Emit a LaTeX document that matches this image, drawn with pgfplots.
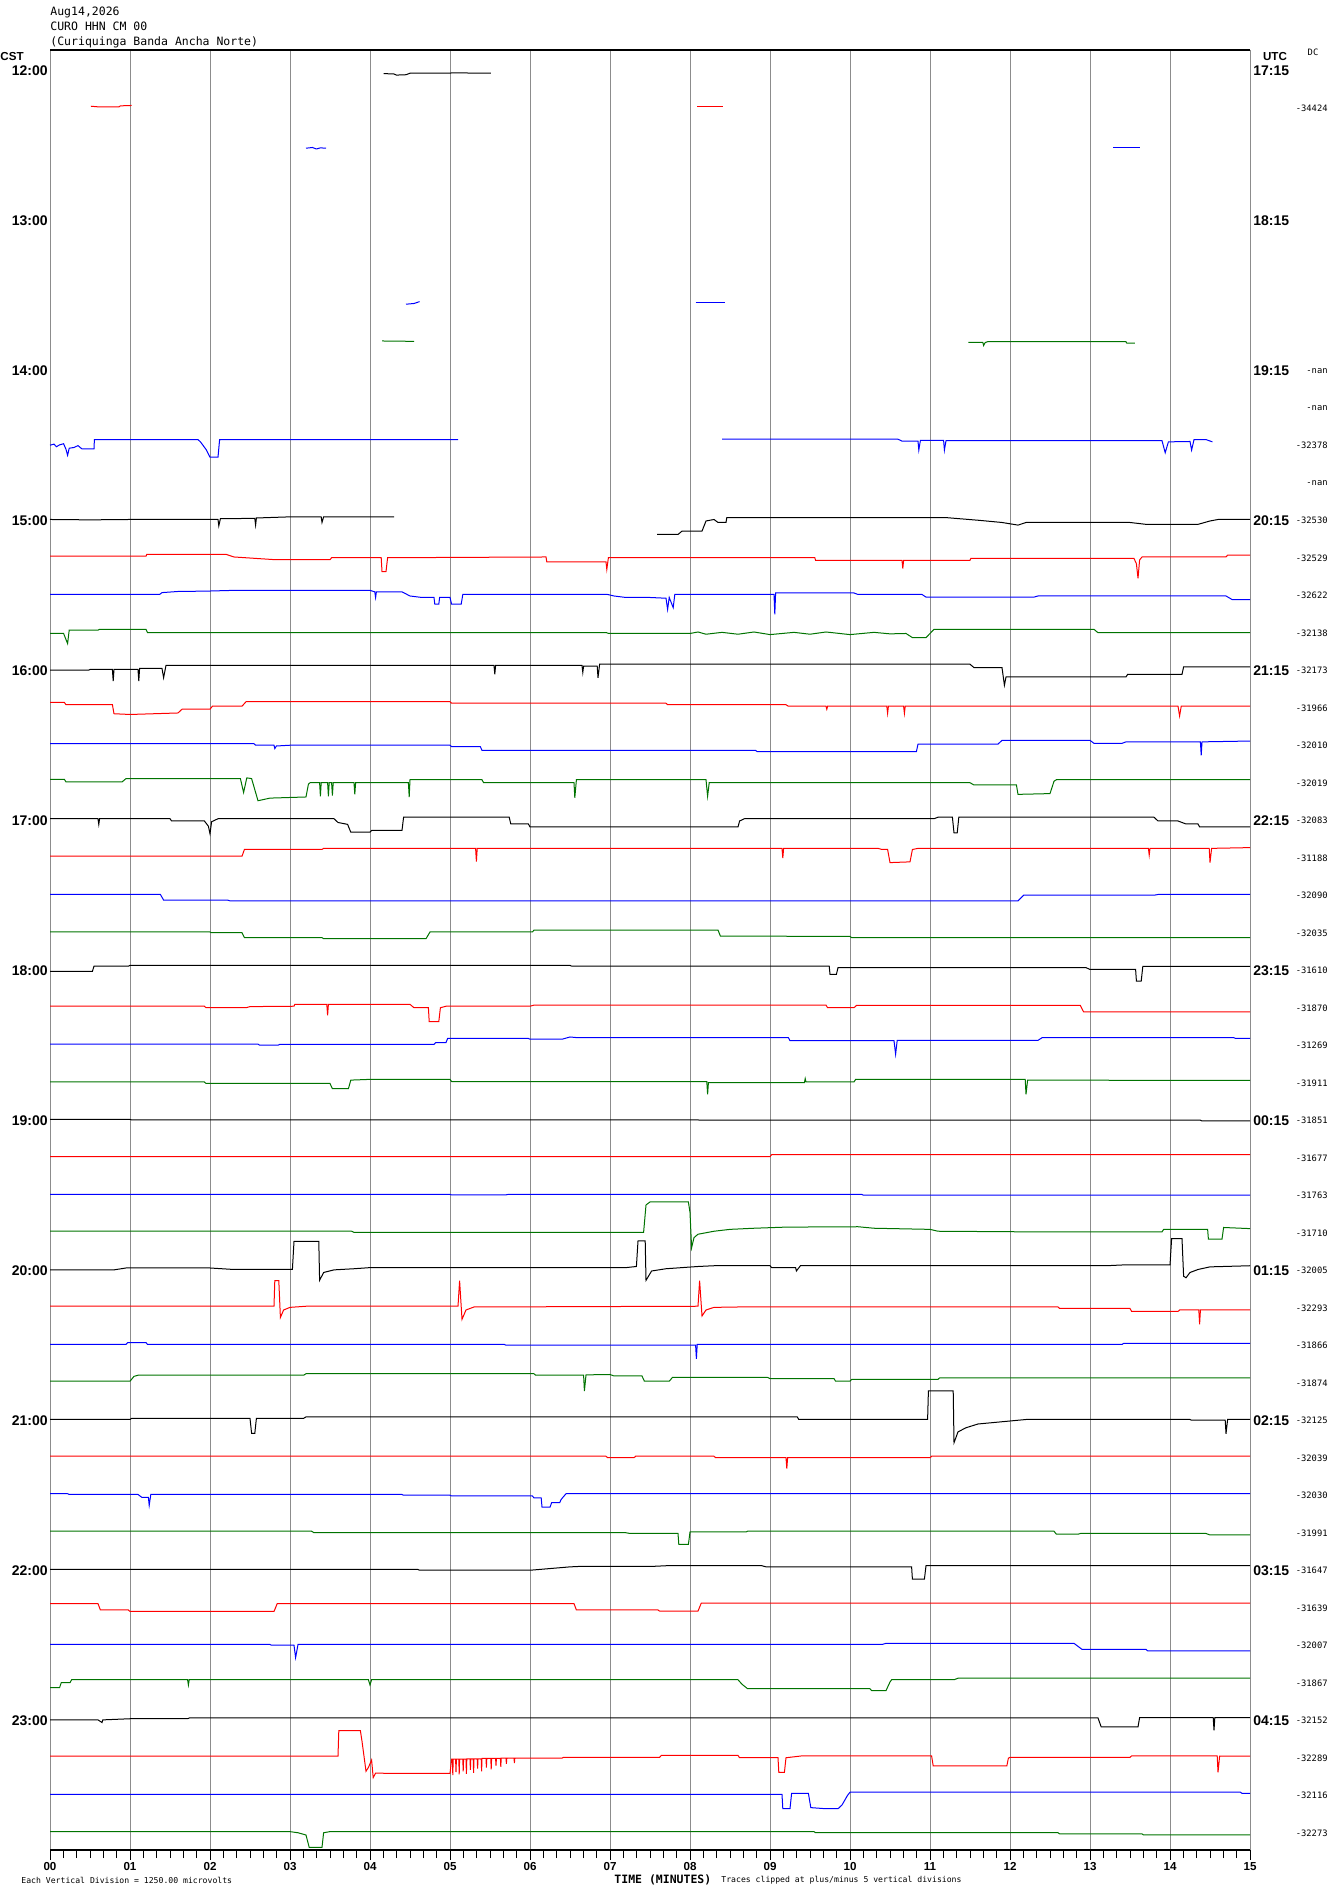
\documentclass[border=0pt]{standalone}
\usepackage{pgfplots}
\pgfplotsset{compat=1.18}
\usepackage{fontspec}
\setmainfont{Liberation Sans}
\newfontfamily\monofont{DejaVu Sans Mono}
\definecolor{trblack}{rgb}{0,0,0}
\definecolor{trred}{rgb}{1,0,0}
\definecolor{trblue}{rgb}{0,0,1}
\definecolor{trgreen}{rgb}{0,0.45,0}
\definecolor{gridgray}{rgb}{0.55,0.55,0.55}
\begin{document}
\begin{tikzpicture}[x=1pt,y=1pt]
\begin{axis}[
  at={(25pt,22pt)}, anchor=south west,
  scale only axis, width=600pt, height=900pt,
  xmin=0, xmax=15, ymin=-47.5, ymax=0.5,
  axis x line*=bottom, axis y line=none,
  xtick={0,1,2,3,4,5,6,7,8,9,10,11,12,13,14,15},
  xticklabels={00,01,02,03,04,05,06,07,08,09,10,11,12,13,14,15},
  minor x tick num=5,
  tick align=outside,
  major tick length=5pt, minor tick length=4pt,
  tick style={black, line width=0.5pt},
  xmajorgrids, major grid style={gridgray, line width=0.5pt},
  xticklabel style={font={\bfseries\fontsize{5.8}{6}\selectfont}, inner sep=1pt},
  axis line style={black, line width=0.6pt},
  clip=false,
  every axis plot/.append style={line width=0.5pt, mark=none, sharp plot},
]
% 12:00 - 12:45
\addplot[trblack] coordinates {(4.17,-0.13) (4.30,-0.14) (4.33,-0.17) (4.45,-0.16) (4.50,-0.12) (5.00,-0.12) (5.02,-0.11) (5.51,-0.12)};
\addplot[trred] coordinates {(0.51,-1.00) (0.62,-1.02) (0.86,-1.02) (0.88,-0.99) (1.02,-0.98)};
\addplot[trred] coordinates {(8.09,-1.02) (8.41,-1.02)};
\addplot[trblue] coordinates {(3.20,-2.12) (3.28,-2.10) (3.33,-2.14) (3.38,-2.11) (3.45,-2.12)};
\addplot[trblue] coordinates {(13.29,-2.10) (13.63,-2.10)};
% 13:30 - 13:45
\addplot[trblue] coordinates {(4.45,-6.28) (4.55,-6.26) (4.62,-6.21)};
\addplot[trblue] coordinates {(8.07,-6.24) (8.44,-6.24)};
\addplot[trgreen] coordinates {(4.15,-7.26) (4.55,-7.27)};
\addplot[trgreen] coordinates {(11.48,-7.30) (11.66,-7.30) (11.67,-7.38) (11.69,-7.30) (11.72,-7.28) (13.45,-7.28) (13.46,-7.32) (13.56,-7.32)};
% 14:30
\addplot[trblue] coordinates {(0,-10.04) (0.05,-10.01) (0.08,-10.08) (0.12,-10.03) (0.17,-10.00) (0.20,-10.15) (0.22,-10.31) (0.24,-10.12) (0.30,-10.10) (0.35,-10.05) (0.40,-10.14) (0.55,-10.14) (0.555,-9.89) (1.85,-9.89) (1.88,-9.95) (1.95,-10.15) (2.00,-10.36) (2.10,-10.36) (2.12,-9.89) (5.10,-9.89)};
\addplot[trblue] coordinates {(8.40,-9.88) (10.60,-9.88) (10.65,-9.93) (10.85,-9.93) (10.86,-10.17) (10.88,-9.91) (11.17,-9.91) (11.18,-10.17) (11.20,-9.92) (13.90,-9.92) (13.94,-10.24) (13.98,-9.95) (14.25,-9.94) (14.27,-10.17) (14.30,-9.89) (14.45,-9.89) (14.53,-9.95)};
% 15:00
\addplot[trblack] coordinates {(0,-12.02) (0.5,-12.03) (1.0,-12.02) (2.1,-12.02) (2.11,-12.19) (2.13,-12.0) (2.56,-11.99) (2.57,-12.17) (2.58,-11.98) (3.0,-11.95) (3.39,-11.95) (3.40,-12.10) (3.42,-11.95) (4.30,-11.95)};
\addplot[trblack] coordinates {(7.59,-12.42) (7.85,-12.42) (7.90,-12.33) (8.15,-12.33) (8.20,-12.06) (8.30,-12.02) (8.35,-12.10) (8.45,-12.10) (8.46,-11.97) (11.20,-11.97) (11.60,-12.04) (11.90,-12.10) (12.10,-12.17) (12.20,-12.10) (13.50,-12.10) (13.70,-12.15) (14.35,-12.15) (14.50,-12.06) (14.60,-12.02) (15,-12.02)};
\addplot[trred] coordinates {(0,-13.0) (1.2,-13.0) (1.21,-12.95) (2.2,-12.95) (2.3,-13.02) (2.8,-13.09) (3.5,-13.09) (3.52,-13.04) (4.14,-13.04) (4.15,-13.41) (4.20,-13.41) (4.22,-13.04) (6.2,-13.02) (6.21,-13.15) (6.95,-13.15) (6.96,-13.35) (6.98,-13.04) (9.56,-13.04) (9.57,-13.11) (10.65,-13.11) (10.66,-13.33) (10.67,-13.11) (11.5,-13.11) (11.51,-13.06) (13.55,-13.06) (13.58,-13.2) (13.60,-13.59) (13.62,-13.10) (13.65,-13.02) (14.7,-13.02) (14.72,-12.97) (15,-12.97)};
\addplot[trblue] coordinates {(0,-14.02) (1.37,-14.02) (1.40,-13.97) (1.60,-13.94) (1.96,-13.93) (2.3,-13.91) (4.0,-13.91) (4.06,-13.95) (4.07,-14.10) (4.08,-13.95) (4.4,-13.95) (4.5,-14.06) (4.65,-14.10) (4.80,-14.10) (4.81,-14.28) (4.86,-14.28) (4.87,-14.10) (5.0,-14.10) (5.02,-14.28) (5.14,-14.28) (5.16,-14.02) (6.97,-14.02) (7.05,-14.06) (7.2,-14.10) (7.5,-14.10) (7.7,-14.12) (7.72,-14.42) (7.74,-14.10) (7.79,-14.37) (7.81,-14.02) (9.05,-14.02) (9.06,-14.55) (9.07,-13.98) (10.05,-13.98) (10.1,-14.02) (10.9,-14.02) (10.95,-14.09) (12.3,-14.09) (12.35,-14.06) (14.7,-14.06) (14.78,-14.16) (15,-14.16)};
\addplot[trgreen] coordinates {(0,-15.06) (0.17,-15.06) (0.22,-15.33) (0.24,-14.97) (0.6,-14.97) (0.62,-14.95) (1.2,-14.95) (1.22,-15.04) (6.96,-15.04) (6.98,-15.06) (8.0,-15.06) (8.1,-15.02) (8.2,-15.08) (8.4,-15.03) (8.6,-15.08) (8.8,-15.02) (9.0,-15.09) (9.3,-15.03) (9.5,-15.08) (9.7,-15.02) (10.0,-15.09) (10.3,-15.03) (10.5,-15.07) (10.7,-15.06) (10.78,-15.17) (10.95,-15.17) (11.0,-15.06) (11.05,-14.95) (13.05,-14.95) (13.1,-15.04) (15,-15.04)};
% 16:00
\addplot[trblack] coordinates {(0,-16.04) (0.48,-16.04) (0.5,-16.02) (0.78,-16.02) (0.79,-16.33) (0.80,-16.02) (1.10,-16.02) (1.11,-16.33) (1.12,-15.99) (1.40,-15.99) (1.42,-16.24) (1.45,-15.91) (5.55,-15.91) (5.56,-16.15) (5.57,-15.91) (6.65,-15.91) (6.66,-16.10) (6.67,-15.93) (6.84,-15.93) (6.85,-16.24) (6.87,-15.88) (11.5,-15.88) (11.55,-15.97) (11.9,-15.97) (11.93,-16.44) (11.95,-16.22) (13.45,-16.22) (13.47,-16.15) (14.15,-16.15) (14.17,-15.95) (15,-15.95)};
\addplot[trred] coordinates {(0,-16.90) (0.18,-16.90) (0.2,-16.96) (0.78,-16.96) (0.8,-17.20) (1.0,-17.22) (1.3,-17.20) (1.6,-17.18) (1.65,-17.08) (2.0,-17.08) (2.03,-17.0) (2.4,-17.0) (2.45,-16.88) (5.0,-16.88) (5.02,-16.92) (7.7,-16.92) (7.72,-16.96) (9.2,-16.96) (9.23,-17.0) (9.7,-17.0) (9.71,-17.08) (9.72,-17.0) (10.46,-17.0) (10.47,-17.19) (10.48,-17.0) (10.67,-17.0) (10.68,-17.19) (10.69,-17.0) (14.1,-17.0) (14.12,-17.26) (14.14,-17.0) (15,-17.0)};
\addplot[trblue] coordinates {(0,-18.0) (2.55,-18.0) (2.57,-18.04) (2.80,-18.04) (2.81,-18.13) (2.83,-18.06) (3.0,-18.04) (5.0,-18.04) (5.02,-18.08) (5.38,-18.08) (5.40,-18.18) (8.82,-18.18) (8.84,-18.21) (10.83,-18.21) (10.85,-18.01) (11.85,-18.01) (11.90,-17.91) (13.0,-17.91) (13.05,-17.99) (13.4,-17.99) (13.45,-17.95) (14.38,-17.95) (14.39,-18.31) (14.40,-17.95) (14.95,-17.93) (15,-17.93)};
\addplot[trgreen] coordinates {(0,-18.95) (0.18,-18.95) (0.2,-19.02) (0.9,-19.02) (0.95,-18.93) (2.38,-18.93) (2.42,-19.30) (2.46,-18.91) (2.52,-18.93) (2.60,-19.52) (2.75,-19.45) (3.2,-19.42) (3.23,-19.08) (3.25,-19.04) (3.37,-19.04) (3.38,-19.40) (3.39,-19.04) (3.47,-19.04) (3.48,-19.40) (3.49,-19.04) (3.52,-19.04) (3.53,-19.38) (3.54,-19.04) (3.80,-19.04) (3.81,-19.35) (3.82,-19.04) (4.48,-19.04) (4.49,-19.42) (4.50,-18.96) (5.4,-18.96) (5.42,-19.04) (6.55,-19.04) (6.56,-19.44) (6.58,-18.96) (8.20,-18.96) (8.22,-19.40) (8.24,-19.04) (11.5,-19.04) (11.55,-19.10) (12.08,-19.10) (12.10,-19.35) (12.5,-19.33) (12.55,-19.0) (12.58,-18.96) (15,-18.96)};
% 17:00
\addplot[trblack] coordinates {(0,-20.0) (0.6,-20.0) (0.61,-20.15) (0.62,-20.0) (1.5,-20.0) (1.52,-20.06) (1.93,-20.06) (1.98,-20.2) (2.0,-20.40) (2.02,-20.08) (2.1,-20.0) (3.55,-20.0) (3.6,-20.1) (3.72,-20.15) (3.76,-20.36) (4.0,-20.36) (4.02,-20.31) (4.4,-20.31) (4.42,-19.96) (5.74,-19.96) (5.76,-20.14) (5.98,-20.14) (6.0,-20.22) (8.6,-20.22) (8.62,-20.06) (8.68,-20.0) (11.05,-20.0) (11.1,-19.96) (11.28,-19.96) (11.30,-20.38) (11.34,-20.38) (11.36,-19.96) (13.8,-19.96) (13.85,-20.06) (14.1,-20.06) (14.2,-20.14) (14.35,-20.14) (14.37,-20.22) (15,-20.22)};
\addplot[trred] coordinates {(0,-21.0) (2.40,-21.0) (2.43,-20.82) (3.4,-20.82) (3.42,-20.79) (5.32,-20.79) (5.33,-21.14) (5.34,-20.79) (9.15,-20.79) (9.16,-21.05) (9.17,-20.79) (10.35,-20.79) (10.4,-20.82) (10.47,-20.82) (10.50,-21.17) (10.75,-21.15) (10.78,-20.82) (10.85,-20.79) (13.73,-20.79) (13.74,-20.97) (13.75,-20.79) (14.49,-20.79) (14.50,-21.17) (14.52,-20.79) (15,-20.77)};
\addplot[trblue] coordinates {(0,-22.02) (1.38,-22.02) (1.42,-22.17) (2.22,-22.17) (2.25,-22.19) (12.1,-22.19) (12.17,-22.04) (13.8,-22.04) (13.85,-22.02) (15,-22.02)};
\addplot[trgreen] coordinates {(0,-23.02) (2.0,-23.02) (2.02,-23.04) (2.40,-23.04) (2.43,-23.17) (3.4,-23.17) (3.42,-23.20) (4.70,-23.20) (4.75,-23.02) (6.03,-23.02) (6.05,-22.97) (8.35,-22.97) (8.38,-23.13) (9.2,-23.13) (9.22,-23.14) (10.0,-23.14) (10.02,-23.17) (15,-23.17)};
% 18:00
\addplot[trblack] coordinates {(0,-24.07) (0.53,-24.07) (0.55,-23.93) (0.98,-23.93) (1.0,-23.91) (6.5,-23.91) (6.52,-23.93) (9.74,-23.93) (9.75,-24.15) (9.83,-24.15) (9.85,-23.97) (12.95,-23.97) (13.0,-24.02) (13.57,-24.02) (13.58,-24.33) (13.64,-24.33) (13.66,-23.94) (15,-23.94)};
\addplot[trred] coordinates {(0,-25.0) (1.93,-25.0) (1.95,-25.04) (2.45,-25.04) (2.5,-25.01) (3.05,-25.0) (3.06,-24.95) (3.46,-24.95) (3.47,-25.24) (3.48,-24.95) (4.5,-24.95) (4.55,-25.04) (4.73,-25.04) (4.74,-25.41) (4.86,-25.41) (4.88,-25.04) (4.95,-25.0) (6.0,-25.0) (6.05,-24.97) (9.7,-24.97) (9.72,-25.04) (10.05,-25.04) (10.08,-24.98) (12.88,-24.98) (12.92,-25.15) (15,-25.15)};
\addplot[trblue] coordinates {(0,-26.01) (2.6,-26.01) (2.62,-26.04) (2.85,-26.04) (2.87,-26.02) (4.8,-26.02) (4.82,-25.97) (4.95,-25.97) (4.97,-25.86) (5.98,-25.86) (6.0,-25.88) (6.4,-25.88) (6.5,-25.82) (6.6,-25.84) (9.23,-25.84) (9.25,-25.92) (10.55,-25.92) (10.57,-26.28) (10.59,-25.91) (12.35,-25.91) (12.4,-25.84) (14.8,-25.84) (14.82,-25.86) (15,-25.86)};
\addplot[trgreen] coordinates {(0,-27.02) (1.93,-27.02) (1.95,-27.06) (3.50,-27.06) (3.53,-27.20) (3.73,-27.20) (3.76,-26.97) (4.0,-26.95) (5.0,-26.95) (5.02,-27.01) (8.21,-27.01) (8.22,-27.35) (8.23,-27.04) (9.43,-27.04) (9.44,-26.93) (9.45,-27.02) (10.05,-27.02) (10.07,-26.95) (12.19,-26.95) (12.20,-27.35) (12.22,-26.97) (15,-26.98)};
% 19:00
\addplot[trblack] coordinates {(0,-28.02) (1.0,-28.02) (1.02,-28.03) (8.1,-28.03) (8.12,-28.04) (14.38,-28.04) (14.4,-28.06) (15,-28.06)};
\addplot[trred] coordinates {(0,-29.01) (9.0,-29.01) (9.02,-28.96) (15,-28.96)};
\addplot[trblue] coordinates {(0,-30.02) (5.0,-30.02) (5.02,-30.03) (5.7,-30.03) (5.72,-30.02) (10.15,-30.02) (10.17,-30.04) (15,-30.04)};
\addplot[trgreen] coordinates {(0,-31.0) (3.77,-31.0) (3.8,-31.03) (7.42,-31.03) (7.45,-30.30) (7.50,-30.22) (7.98,-30.22) (8.0,-30.5) (8.02,-31.44) (8.05,-31.17) (8.1,-31.08) (8.3,-31.0) (8.5,-30.95) (8.8,-30.92) (9.2,-30.89) (10.1,-30.88) (10.3,-30.92) (11.0,-30.95) (11.1,-31.0) (12.5,-31.02) (13.9,-31.02) (13.92,-30.95) (14.47,-30.95) (14.48,-31.21) (14.65,-31.21) (14.67,-30.90) (15,-30.93)};
% 20:00
\addplot[trblack] coordinates {(0,-32.03) (0.8,-32.03) (0.95,-31.98) (2.0,-31.98) (2.3,-32.02) (3.03,-32.02) (3.05,-31.27) (3.36,-31.27) (3.37,-32.31) (3.42,-32.10) (3.55,-32.03) (3.8,-32.0) (4.0,-31.97) (7.2,-31.97) (7.33,-31.94) (7.35,-31.26) (7.44,-31.26) (7.45,-32.31) (7.52,-32.06) (7.7,-32.0) (8.1,-31.94) (8.3,-31.92) (9.0,-31.92) (9.02,-31.97) (9.32,-31.97) (9.33,-32.06) (9.38,-31.92) (13.2,-31.92) (13.4,-31.90) (14.0,-31.90) (14.02,-31.20) (14.15,-31.20) (14.17,-32.20) (14.2,-32.24) (14.25,-32.10) (14.35,-32.02) (14.5,-31.95) (15,-31.92)};
\addplot[trred] coordinates {(0,-33.0) (2.80,-33.0) (2.81,-32.32) (2.86,-32.32) (2.88,-33.30) (2.92,-33.10) (3.0,-33.03) (3.2,-33.0) (5.10,-33.0) (5.12,-32.32) (5.15,-33.35) (5.2,-33.10) (5.3,-33.02) (8.10,-33.0) (8.12,-32.32) (8.15,-33.26) (8.2,-33.10) (8.3,-33.03) (8.6,-33.02) (12.6,-33.02) (12.62,-33.06) (13.5,-33.06) (13.52,-33.14) (14.1,-33.14) (14.12,-33.10) (14.36,-33.10) (14.37,-33.48) (14.38,-33.10) (15,-33.10)};
\addplot[trblue] coordinates {(0,-34.02) (0.95,-34.02) (0.97,-33.97) (1.2,-33.97) (1.22,-34.02) (5.68,-34.02) (5.7,-34.04) (8.07,-34.04) (8.08,-34.40) (8.09,-34.02) (13.4,-34.02) (13.42,-33.99) (15,-33.99)};
\addplot[trgreen] coordinates {(0,-35.0) (1.0,-35.0) (1.05,-34.87) (1.1,-34.84) (3.17,-34.84) (3.2,-34.80) (6.05,-34.80) (6.07,-34.84) (6.67,-34.84) (6.68,-35.26) (6.70,-34.83) (7.0,-34.82) (7.05,-34.86) (7.4,-34.86) (7.43,-35.0) (7.74,-35.0) (7.78,-34.90) (8.97,-34.90) (9.0,-34.93) (9.8,-34.93) (9.82,-35.0) (10.0,-35.0) (10.02,-34.95) (11.1,-34.95) (11.12,-34.91) (15,-34.91)};
% 21:00
\addplot[trblack] coordinates {(0,-36.02) (1.0,-36.02) (1.02,-35.99) (2.50,-35.99) (2.52,-36.39) (2.56,-36.39) (2.58,-35.99) (3.17,-35.99) (3.2,-35.95) (9.34,-35.95) (9.36,-36.02) (10.97,-36.02) (10.98,-35.26) (11.29,-35.26) (11.30,-36.64) (11.35,-36.35) (11.45,-36.24) (11.6,-36.14) (11.9,-36.08) (12.2,-36.02) (14.25,-36.02) (14.27,-36.04) (14.69,-36.04) (14.70,-36.40) (14.72,-36.02) (15,-36.02)};
\addplot[trred] coordinates {(0,-37.0) (6.95,-37.0) (6.97,-37.04) (7.3,-37.04) (7.32,-37.0) (8.3,-37.0) (8.32,-37.04) (9.20,-37.04) (9.21,-37.33) (9.22,-37.04) (11.0,-37.04) (11.02,-37.0) (15,-37.0)};
\addplot[trblue] coordinates {(0,-38.0) (0.22,-38.0) (0.24,-38.02) (1.1,-38.02) (1.15,-38.10) (1.23,-38.10) (1.24,-38.31) (1.26,-38.02) (4.4,-38.02) (4.42,-38.04) (5.0,-38.04) (5.02,-38.06) (6.03,-38.06) (6.05,-38.11) (6.14,-38.11) (6.15,-38.36) (6.25,-38.36) (6.27,-38.24) (6.37,-38.24) (6.39,-38.15) (6.45,-38.0) (15,-38.0)};
\addplot[trgreen] coordinates {(0,-39.0) (3.27,-39.0) (3.3,-39.04) (7.2,-39.04) (7.25,-39.06) (7.85,-39.06) (7.86,-39.35) (7.98,-39.35) (8.0,-39.02) (8.7,-39.02) (8.72,-39.0) (12.55,-39.0) (12.58,-39.08) (12.85,-39.08) (12.88,-39.06) (14.45,-39.06) (14.5,-39.10) (15,-39.10)};
% 22:00
\addplot[trblack] coordinates {(0,-40.02) (4.6,-40.02) (4.62,-40.04) (6.0,-40.04) (6.5,-39.95) (6.6,-39.94) (7.5,-39.94) (7.7,-39.92) (8.9,-39.92) (8.95,-39.95) (10.77,-39.95) (10.78,-40.28) (10.93,-40.28) (10.95,-39.92) (15,-39.92)};
\addplot[trred] coordinates {(0,-40.93) (0.6,-40.93) (0.63,-41.10) (0.98,-41.10) (1.0,-41.14) (2.80,-41.14) (2.84,-40.93) (6.55,-40.93) (6.58,-41.10) (7.6,-41.10) (7.62,-41.13) (8.10,-41.13) (8.14,-40.92) (15,-40.92)};
\addplot[trblue] coordinates {(0,-42.02) (2.75,-42.02) (2.77,-42.04) (3.05,-42.04) (3.07,-42.37) (3.10,-42.02) (10.4,-42.02) (10.45,-41.99) (12.8,-41.99) (12.9,-42.15) (13.7,-42.15) (13.72,-42.19) (15,-42.19)};
\addplot[trgreen] coordinates {(0,-43.17) (0.12,-43.17) (0.14,-43.04) (0.25,-43.04) (0.27,-42.96) (1.72,-42.96) (1.73,-43.10) (1.74,-42.96) (3.98,-42.96) (4.0,-43.10) (4.02,-42.96) (8.6,-42.96) (8.65,-43.08) (8.72,-43.20) (10.25,-43.20) (10.27,-43.25) (10.45,-43.25) (10.5,-43.02) (10.52,-42.96) (11.3,-42.96) (11.35,-42.92) (15,-42.92)};
% 23:00
\addplot[trblack] coordinates {(0,-44.03) (0.6,-44.03) (0.65,-44.10) (0.66,-44.03) (1.0,-44.0) (1.72,-44.0) (1.74,-43.98) (13.1,-43.98) (13.14,-44.22) (13.6,-44.22) (13.62,-43.97) (14.54,-43.97) (14.55,-44.31) (14.56,-43.97) (15,-43.97)};
\addplot[trred] coordinates {(0,-45.0) (3.60,-45.0) (3.61,-44.32) (3.88,-44.32) (3.90,-44.60) (3.95,-45.40) (3.98,-45.30) (4.0,-45.20) (4.02,-45.10) (4.04,-45.57) (4.07,-45.45) (4.15,-45.45) (4.2,-45.46) (5.0,-45.46) (5.02,-45.08) (5.03,-45.08) (5.035,-45.50) (5.04,-45.08) (5.07,-45.08) (5.075,-45.42) (5.08,-45.08) (5.11,-45.08) (5.115,-45.48) (5.12,-45.08) (5.16,-45.08) (5.165,-45.40) (5.17,-45.08) (5.20,-45.08) (5.205,-45.47) (5.21,-45.07) (5.25,-45.07) (5.255,-45.36) (5.26,-45.07) (5.29,-45.07) (5.295,-45.44) (5.30,-45.07) (5.34,-45.07) (5.345,-45.33) (5.35,-45.07) (5.39,-45.07) (5.395,-45.40) (5.40,-45.06) (5.45,-45.06) (5.455,-45.30) (5.46,-45.06) (5.51,-45.06) (5.515,-45.35) (5.52,-45.06) (5.57,-45.06) (5.575,-45.25) (5.58,-45.06) (5.63,-45.06) (5.635,-45.28) (5.64,-45.05) (5.70,-45.05) (5.705,-45.20) (5.71,-45.05) (5.80,-45.05) (5.805,-45.18) (5.81,-45.05) (6.4,-45.05) (6.42,-45.03) (7.62,-45.03) (7.64,-44.98) (8.6,-44.98) (8.62,-45.04) (9.10,-45.04) (9.11,-45.43) (9.18,-45.43) (9.2,-45.04) (9.4,-44.99) (11.02,-44.99) (11.04,-45.26) (11.96,-45.26) (11.98,-45.05) (12.0,-45.03) (13.5,-45.03) (13.52,-44.99) (14.59,-44.99) (14.60,-45.43) (14.62,-45.0) (15,-45.0)};
\addplot[trblue] coordinates {(0,-46.02) (9.15,-46.02) (9.16,-46.40) (9.25,-46.40) (9.27,-45.99) (9.48,-45.99) (9.51,-46.37) (9.70,-46.40) (9.85,-46.40) (9.90,-46.30) (9.97,-46.04) (10.0,-45.96) (14.88,-45.96) (14.9,-45.99) (15,-45.99)};
\addplot[trgreen] coordinates {(0,-47.01) (3.0,-47.01) (3.1,-47.04) (3.2,-47.10) (3.24,-47.43) (3.40,-47.43) (3.42,-47.04) (3.5,-47.01) (9.55,-47.01) (9.57,-47.04) (12.6,-47.04) (12.62,-47.07) (13.65,-47.07) (13.67,-47.10) (15,-47.10)};
% top frame line
\draw[black, line width=0.6pt] (rel axis cs:0,1) -- (rel axis cs:1,1);
\end{axis}
% header
\node[anchor=west, inner sep=0pt, font={\monofont\fontsize{5.75}{6}\selectfont}] at (25,941) {Aug14,2026};
\node[anchor=west, inner sep=0pt, font={\monofont\fontsize{5.75}{6}\selectfont}] at (25,934) {CURO HHN CM 00};
\node[anchor=west, inner sep=0pt, font={\monofont\fontsize{5.75}{6}\selectfont}] at (25,926) {(Curiquinga Banda Ancha Norte)};
\node[anchor=west, inner sep=0pt, font={\bfseries\fontsize{5.8}{6}\selectfont}] at (0,918.5) {CST};
\node[inner sep=0pt, font={\bfseries\fontsize{5.8}{6}\selectfont}] at (637.5,918.5) {UTC};
\node[inner sep=0pt, font={\monofont\fontsize{4.4}{5}\selectfont}] at (656.5,921) {DC};
% hour labels
\foreach \t [count=\k from 0] in {12:00,13:00,14:00,15:00,16:00,17:00,18:00,19:00,20:00,21:00,22:00,23:00}
  \node[anchor=east, inner sep=0pt, font={\bfseries\fontsize{7}{8}\selectfont}] at (24,{912.625-75*\k-1}) {\t};
\foreach \t [count=\k from 0] in {17:15,18:15,19:15,20:15,21:15,22:15,23:15,00:15,01:15,02:15,03:15,04:15}
  \node[anchor=west, inner sep=0pt, font={\bfseries\fontsize{7}{8}\selectfont}] at (626.5,{912.625-75*\k-1}) {\t};
\foreach \v [count=\k from 0] in {{},-34424,{},{},{},{},{},{},-nan,-nan,-32378,-nan,-32530,-32529,-32622,-32138,-32173,-31966,-32010,-32019,-32083,-31188,-32090,-32035,-31610,-31870,-31269,-31911,-31851,-31677,-31763,-31710,-32005,-32293,-31866,-31874,-32125,-32039,-32030,-31991,-31647,-31639,-32007,-31867,-32152,-32289,-32116,-32273}
  \node[anchor=east, inner sep=0pt, font={\monofont\fontsize{4.4}{5}\selectfont}] at (664,{912.625-18.75*\k-1}) {\v};
% footer
\node[anchor=west, inner sep=0pt, font={\monofont\fontsize{4.07}{5}\selectfont}] at (10.5,7) {Each Vertical Division = 1250.00 microvolts};
\node[anchor=west, inner sep=0pt, font={\monofont\bfseries\fontsize{5.75}{6}\selectfont}] at (307,7) {TIME (MINUTES)};
\node[anchor=west, inner sep=0pt, font={\monofont\fontsize{4.07}{5}\selectfont}] at (360.5,7) {Traces clipped at plus/minus 5 vertical divisions};
\pgfresetboundingbox
\useasboundingbox (0,0) rectangle (665,947);
\end{tikzpicture}
\end{document}
